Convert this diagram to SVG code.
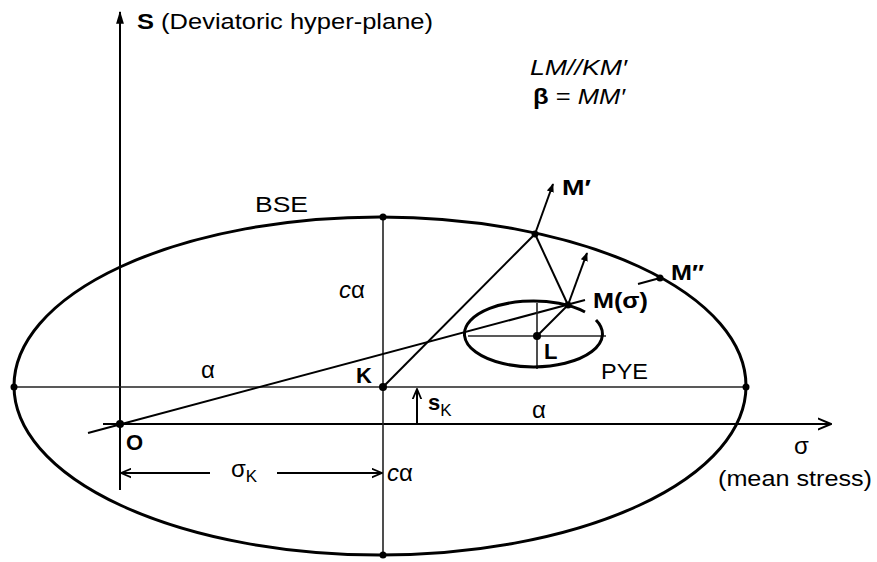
<svg xmlns="http://www.w3.org/2000/svg" width="877" height="562" viewBox="0 0 877 562">
<style>
text{font-family:"Liberation Sans",Arial,sans-serif;font-size:22px;fill:#000}
.b{font-weight:bold}
.i{font-style:italic}
.g{font-size:24px}
.thick{fill:none;stroke:#000;stroke-width:3}
.line{fill:none;stroke:#000;stroke-width:2}
.thin{fill:none;stroke:#222;stroke-width:1.6}
.dot{fill:#000}
</style>
<defs>
<marker id="fill" viewBox="0 0 10 10" refX="9" refY="5" markerWidth="9" markerHeight="9" markerUnits="userSpaceOnUse" orient="auto"><path d="M0,1 L10,5 L0,9 Z" fill="#000"/></marker>
<marker id="fillL" viewBox="0 0 10 10" refX="9" refY="5" markerWidth="13" markerHeight="13" markerUnits="userSpaceOnUse" orient="auto"><path d="M0,2 L10,5 L0,8 Z" fill="#000"/></marker>
<marker id="open" viewBox="0 0 10 10" refX="9.5" refY="5" markerWidth="14" markerHeight="14" markerUnits="userSpaceOnUse" orient="auto"><path d="M0,1 L9.5,5 L0,9" fill="none" stroke="#000" stroke-width="1.4"/></marker>
<marker id="openS" viewBox="0 0 10 10" refX="9.5" refY="5" markerWidth="11" markerHeight="11" markerUnits="userSpaceOnUse" orient="auto"><path d="M0,1 L9.5,5 L0,9" fill="none" stroke="#000" stroke-width="1.6"/></marker>
</defs>

<g id="connectors">
<line class="line" x1="120" y1="490" x2="120" y2="12" stroke-width="2.5" marker-end="url(#fillL)"/>
<line class="line" x1="103" y1="424" x2="831" y2="424" marker-end="url(#open)"/>
<line class="thin" x1="14" y1="387" x2="746" y2="387"/>
<line class="thin" x1="383" y1="217" x2="383" y2="555"/>
<line class="line" x1="88" y1="433" x2="585" y2="300"/>
<line class="line" x1="638" y1="284" x2="660" y2="278"/>
<line class="line" x1="383" y1="387" x2="535" y2="234"/>
<line class="line" x1="535" y1="234" x2="568" y2="305"/>
<line class="line" x1="535" y1="234" x2="553" y2="184" marker-end="url(#fill)"/>
<line class="line" x1="568" y1="305" x2="587" y2="253" marker-end="url(#fill)"/>
<line class="line" x1="537" y1="336" x2="568" y2="305"/>
<line class="thin" x1="468" y1="336" x2="606" y2="336"/>
<line class="thin" x1="537" y1="303" x2="537" y2="369"/>
<line class="line" x1="417" y1="423" x2="417" y2="389" marker-end="url(#openS)"/>
<line class="line" x1="210" y1="473" x2="121" y2="473" marker-end="url(#openS)"/>
<line class="line" x1="277" y1="473" x2="382" y2="473" marker-end="url(#openS)"/>
</g>

<g id="BSE">
<ellipse class="thick" cx="380" cy="386" rx="366" ry="169"/>
<text x="255" y="212" textLength="53" lengthAdjust="spacingAndGlyphs">BSE</text>
</g>

<g id="PYE">
<path class="thick" d="M596,320 A69,33 0 1 1 585,312"/>
<text x="601" y="379" textLength="47" lengthAdjust="spacingAndGlyphs">PYE</text>
</g>

<g id="points">
<circle class="dot" cx="14" cy="387" r="3.5"/>
<circle class="dot" cx="746" cy="387" r="3.5"/>
<circle class="dot" cx="383" cy="217" r="3.5"/>
<circle class="dot" cx="383" cy="555" r="3.5"/>
<circle class="dot" cx="383" cy="387" r="4"/>
<circle class="dot" cx="120" cy="424" r="4"/>
<circle class="dot" cx="535" cy="234" r="3.5"/>
<circle class="dot" cx="660" cy="278" r="3.5"/>
<circle class="dot" cx="568" cy="305" r="3.5"/>
<circle class="dot" cx="537" cy="336" r="4"/>
</g>

<g id="labels">
<text x="137" y="29" textLength="296" lengthAdjust="spacingAndGlyphs"><tspan class="b">S</tspan> (Deviatoric hyper-plane)</text>
<text class="i" x="530" y="75" textLength="97" lengthAdjust="spacingAndGlyphs">LM//KM′</text>
<text x="533" y="104" textLength="92" lengthAdjust="spacingAndGlyphs"><tspan class="b">β</tspan> = <tspan class="i">MM′</tspan></text>
<text class="b" x="562" y="195" textLength="29" lengthAdjust="spacingAndGlyphs">M′</text>
<text class="b" x="671" y="280" textLength="33" lengthAdjust="spacingAndGlyphs">M′′</text>
<text class="b" x="593" y="308" textLength="55" lengthAdjust="spacingAndGlyphs">M(σ)</text>
<text class="b" x="544" y="359">L</text>
<text class="b" x="356" y="383">K</text>
<text x="428" y="410"><tspan class="b">s</tspan><tspan font-size="17" dy="6">K</tspan></text>
<text class="b" x="126" y="450">O</text>
<text class="g" x="201" y="378">α</text>
<text class="g" x="532" y="418">α</text>
<text class="g" x="339" y="298"><tspan class="i">c</tspan>α</text>
<text class="g" x="387" y="481"><tspan class="i">c</tspan>α</text>
<text class="g" x="231" y="477">σ<tspan font-size="17" dy="5">K</tspan></text>
<text class="g" x="794" y="454">σ</text>
<text x="718" y="486" textLength="154" lengthAdjust="spacingAndGlyphs">(mean stress)</text>
</g>
</svg>
